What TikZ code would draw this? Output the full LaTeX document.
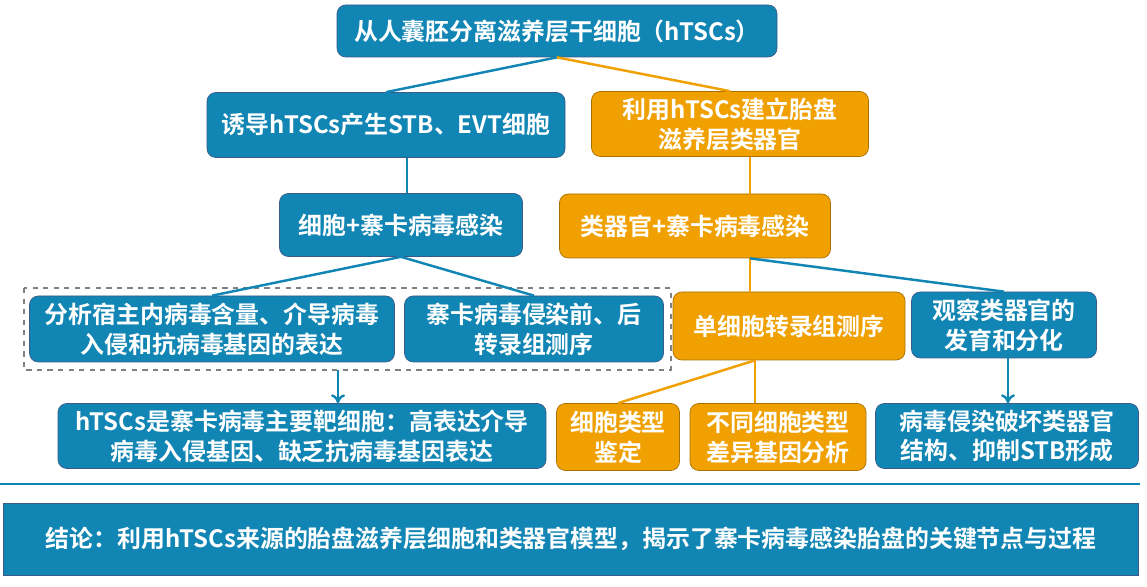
\documentclass[tikz,border=0pt]{standalone}
\usepackage{fontspec}
\setmainfont{Noto Sans CJK SC}[BoldFont={* Bold}]
\usetikzlibrary{calc,arrows.meta}
\definecolor{zblue}{HTML}{1185B3}
\definecolor{zedge}{HTML}{3A5A8A}
\definecolor{zorange}{HTML}{F0A000}
\begin{document}
\begin{tikzpicture}[
    x=0.02cm, y=-0.02cm,
    % Common Styles
    box/.style={
        draw=zedge, 
        rounded corners=5pt, 
        text=white, 
        align=center, 
        font=\fontsize{13.6}{17}\selectfont\bfseries, 
        inner sep=0pt
    },
    bluebox/.style={box, fill=zblue},
    orangebox/.style={box, fill=zorange, draw=zorange!70!black},
    blueline/.style={zblue, line width=1.4pt},
    orangeline/.style={zorange, line width=1.4pt}
]
    \useasboundingbox (0,0) rectangle (1147,587);

    % ================= TOP =================
    \node[bluebox, minimum width=440*0.02cm, minimum height=52*0.02cm] (top) at (557,31) {从人囊胚分离滋养层干细胞（hTSCs）};

    % ================= ROW 1 =================
    \node[bluebox, minimum width=358*0.02cm, minimum height=65*0.02cm] (induce) at (386,125) {诱导hTSCs产生STB、EVT细胞};
    \node[orangebox, minimum width=277*0.02cm, minimum height=65*0.02cm] (build) at (730,124) {利用hTSCs建立胎盘\\滋养层类器官};

    % ================= ROW 2 =================
    \node[bluebox, minimum width=243*0.02cm, minimum height=63*0.02cm] (cell) at (401,225) {细胞+寨卡病毒感染};
    \node[orangebox, minimum width=271*0.02cm, minimum height=64*0.02cm] (organoid) at (695,226) {类器官+寨卡病毒感染};

    % ================= ROW 3 =================
    \draw[gray, dashed, line width=1.4pt] (24,288) rectangle (671,370);
    \coordinate (dashbot) at (338,370);
    \node[bluebox, minimum width=365*0.02cm, minimum height=66*0.02cm] (analyze) at (212,329) {分析宿主内病毒含量、介导病毒\\入侵和抗病毒基因的表达};
    \node[bluebox, minimum width=259*0.02cm, minimum height=66*0.02cm] (seq) at (534,329) {寨卡病毒侵染前、后\\转录组测序};
    \node[orangebox, minimum width=232*0.02cm, minimum height=68*0.02cm] (single) at (789,326) {单细胞转录组测序};
    \node[bluebox, minimum width=185*0.02cm, minimum height=66*0.02cm] (observe) at (1004,325) {观察类器官的\\发育和分化};

    % ================= ROW 4 =================
    \node[bluebox, minimum width=488*0.02cm, minimum height=65*0.02cm] (target) at (302,436) {hTSCs是寨卡病毒主要靶细胞：高表达介导\\病毒入侵基因、缺乏抗病毒基因表达};
    \node[orangebox, minimum width=123*0.02cm, minimum height=67*0.02cm] (type) at (618,437) {细胞类型\\鉴定};
    \node[orangebox, minimum width=176*0.02cm, minimum height=67*0.02cm] (diff) at (778,437) {不同细胞类型\\差异基因分析};
    \node[bluebox, minimum width=263*0.02cm, minimum height=65*0.02cm] (damage) at (1007,436) {病毒侵染破坏类器官\\结构、抑制STB形成};

    % ================= CONCLUSION =================
    \draw[zblue, line width=1.6pt] (0,484) coordinate (ruleL) -- (1140,484) coordinate (ruleR);
    \node[bluebox, rounded corners=0pt, minimum width=1135*0.02cm, minimum height=72*0.02cm] (concl) at (571,539) {结论：利用hTSCs来源的胎盘滋养层细胞和类器官模型，揭示了寨卡病毒感染胎盘的关键节点与过程};

    % Connectors
    \draw[blueline] (top.south) -- (induce.north);
    \draw[orangeline] (top.south) -- (build.north);
    \draw[blueline] ($(induce.south)+(21,0)$) -- ($(cell.north)+(6,0)$);
    \draw[orangeline] ($(build.south)+(20,0)$) -- ($(organoid.north)+(55,0)$);
    \draw[blueline] (cell.south) -- (analyze.north);
    \draw[blueline] (cell.south) -- (seq.north);
    \draw[orangeline] ($(organoid.south)+(55,0)$) -- ($(single.north)+(-39,0)$);
    \draw[blueline] ($(organoid.south)+(55,0)$) -- (observe.north);
    \draw[blueline, -{To[length=5pt,width=8pt]}] (dashbot) -- (dashbot |- target.north);
    \draw[orangeline] ($(single.south)+(-34,0)$) -- (type.north);
    \draw[orangeline] ($(single.south)+(-34,0)$) -- ($(diff.north)+(-23,0)$);
    \draw[blueline, -{To[length=5pt,width=8pt]}] ($(observe.south)+(4,0)$) -- ($(damage.north)+(1,0)$);

\end{tikzpicture}
\end{document}
